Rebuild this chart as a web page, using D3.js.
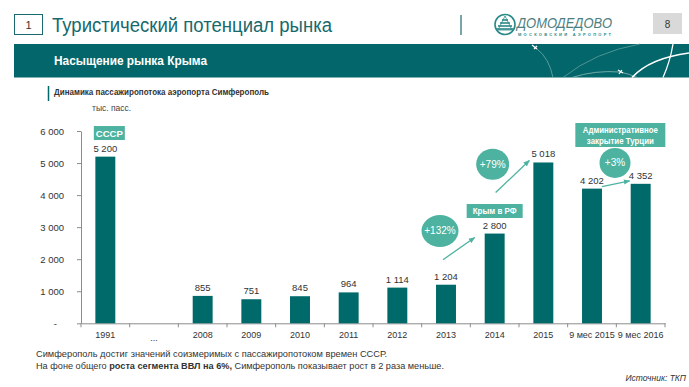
<!DOCTYPE html>
<html>
<head>
<meta charset="utf-8">
<script src="https://d3js.org/d3.v7.min.js"></script>
<style>
  body { margin: 0; background: #fff; }
  text { font-family: "Liberation Sans", Arial, sans-serif; }
</style>
</head>
<body>
<script>
// chart data
const categories = ["1991", "...", "2008", "2009", "2010", "2011", "2012", "2013", "2014", "2015", "9 мес 2015", "9 мес 2016"];
const passengers = [5200, null, 855, 751, 845, 964, 1114, 1204, 2800, 5018, 4202, 4352];
const yTicks = [0, 1000, 2000, 3000, 4000, 5000, 6000];
const growthLabels = ["+132%", "+79%", "+3%"];

const width = 689, height = 387;
const teal = "#006a6a", light = "#4db3a0", txt = "#333";

const svg = d3.select("body").append("svg")
    .attr("width", width)
    .attr("height", height);

svg.append("defs").append("marker")
    .attr("id", "arr")
    .attr("viewBox", "0 0 10 10")
    .attr("refX", 9).attr("refY", 5)
    .attr("markerWidth", 5).attr("markerHeight", 5)
    .attr("orient", "auto")
    .append("path").attr("d", "M0,1 L10,5 L0,9 Z").attr("fill", light);

// ---- header ----
svg.append("rect").attr("x", 14.5).attr("y", 14.5).attr("width", 28).attr("height", 20)
    .attr("fill", "none").attr("stroke", "#1b6b6e").attr("stroke-width", 1);
svg.append("text").attr("x", 28.5).attr("y", 28.5).attr("text-anchor", "middle")
    .attr("font-size", 11).attr("fill", txt).text("1");
svg.append("text").attr("x", 52).attr("y", 31.5)
    .attr("font-size", 20).attr("fill", "#17696d")
    .attr("textLength", 280).attr("lengthAdjust", "spacingAndGlyphs")
    .text("Туристический потенциал рынка");
svg.append("line").attr("x1", 461).attr("x2", 461).attr("y1", 15).attr("y2", 35)
    .attr("stroke", "#1b6b6e").attr("stroke-width", 1.2);

// logo
const logo = svg.append("g");
logo.append("circle").attr("cx", 505).attr("cy", 24.5).attr("r", 10)
    .attr("fill", "none").attr("stroke", "#2a8a88").attr("stroke-width", 1.6);
[[0, 3], [3, 5], [6, 7], [9, 9]].forEach(([dy, hw]) => {
  logo.append("line").attr("x1", 505 - hw).attr("x2", 505 + hw)
      .attr("y1", 20 + dy).attr("y2", 20 + dy)
      .attr("stroke", "#2a8a88").attr("stroke-width", 1.6);
});
logo.append("path").attr("d", "M505,16 L498,30 L512,30 Z").attr("fill", "none")
    .attr("stroke", "#2a8a88").attr("stroke-width", 0.8);
logo.append("text").attr("x", 517).attr("y", 28)
    .attr("font-size", 14.5).attr("font-style", "italic").attr("fill", "#4d7f82")
    .attr("textLength", 95).attr("lengthAdjust", "spacingAndGlyphs")
    .text("ДОМОДЕДОВО");
logo.append("text").attr("x", 518).attr("y", 35.5)
    .attr("font-size", 4).attr("font-weight", "bold").attr("fill", "#2a8a88")
    .attr("textLength", 93).attr("lengthAdjust", "spacing")
    .text("МОСКОВСКИЙ АЭРОПОРТ");

svg.append("rect").attr("x", 653).attr("y", 13).attr("width", 29).attr("height", 21).attr("fill", "#d9d9d9");
svg.append("text").attr("x", 667.5).attr("y", 28).attr("text-anchor", "middle")
    .attr("font-size", 10).attr("fill", txt).text("8");

// banner
svg.append("rect").attr("x", 14).attr("y", 44).attr("width", width - 14).attr("height", 33.5).attr("fill", "#03666a");
svg.append("text").attr("x", 54).attr("y", 65).attr("font-size", 12).attr("font-weight", "bold")
    .attr("fill", "#fff").attr("textLength", 153).attr("lengthAdjust", "spacingAndGlyphs")
    .text("Насыщение рынка Крыма");
const deco = svg.append("g").attr("fill", "none");
deco.append("path").attr("d", "M537,49 Q549,58 553,77.5").attr("stroke", "#6fa9a6").attr("stroke-width", 0.8);
deco.append("path").attr("d", "M563,77.5 Q595,52 640,44").attr("stroke", "#5f9f9c").attr("stroke-width", 0.8);
deco.append("path").attr("d", "M572,77.5 Q595,70 620,72 Q630,74 637,77.5").attr("stroke", "#8bbab7").attr("stroke-width", 0.8);
deco.append("path").attr("d", "M632,77.5 Q650,58 689,53").attr("stroke", "#fff").attr("stroke-width", 1.6);
deco.append("path").attr("d", "M673,44 Q670,62 663,77.5").attr("stroke", "#fff").attr("stroke-width", 1.3);
deco.append("path").attr("d", "M532,45 L537,49 M534,49 L537,46").attr("stroke", "#fff").attr("stroke-width", 1.2);
deco.append("path").attr("d", "M618,70 L623,73 M619,74 L622,70").attr("stroke", "#fff").attr("stroke-width", 1.2);

// subtitle
svg.append("line").attr("x1", 48.5).attr("x2", 48.5).attr("y1", 86).attr("y2", 101)
    .attr("stroke", teal).attr("stroke-width", 1.5);
svg.append("text").attr("x", 54).attr("y", 95).attr("font-size", 9).attr("font-weight", "bold")
    .attr("fill", txt).attr("textLength", 215).attr("lengthAdjust", "spacingAndGlyphs")
    .text("Динамика пассажиропотока  аэропорта  Симферополь");
svg.append("text").attr("x", 92).attr("y", 111).attr("font-size", 8.5).attr("fill", "#444")
    .text("тыс.  пасс.");

// ---- chart ----
const x = d3.scaleBand().domain(categories).range([81, 665]).paddingInner(0.59).paddingOuter(0.295);
const y = d3.scaleLinear().domain([0, 6000]).range([323.3, 131]);
const bw = x.bandwidth(), step = x.step();
const cx = c => x(c) + bw / 2;
const fmt = v => d3.format(",")(v).replace(/,/g, " ");

const data = categories.map((c, i) => ({ cat: c, v: passengers[i] }));

// y axis
const yAxis = svg.append("g").attr("transform", "translate(81,0)")
    .call(d3.axisLeft(y).tickValues(yTicks).tickSize(4).tickSizeOuter(0).tickPadding(13)
        .tickFormat(d => d === 0 ? "-" : fmt(d)));
yAxis.select(".domain").attr("stroke", "#8c8c8c");
yAxis.selectAll(".tick line").attr("stroke", "#8c8c8c");
yAxis.selectAll(".tick text").attr("font-size", 9.5).attr("fill", txt)
    .attr("font-family", "Liberation Sans, Arial, sans-serif");
yAxis.selectAll(".tick text").filter(d => d === 0).attr("dx", -7);

// x axis (labels) + boundary ticks
const xAxis = svg.append("g").attr("transform", "translate(0," + y(0) + ")")
    .call(d3.axisBottom(x).tickSize(0).tickPadding(8).tickSizeOuter(0));
xAxis.select(".domain").attr("stroke", "#8c8c8c");
xAxis.selectAll(".tick text").attr("font-size", 9).attr("fill", txt)
    .attr("font-family", "Liberation Sans, Arial, sans-serif");
xAxis.selectAll(".tick text").filter(d => d === "...").attr("dy", "1.05em");
const bounds = categories.map(c => cx(c) - step / 2).concat([cx(categories[categories.length - 1]) + step / 2]);
svg.append("g").selectAll("line").data(bounds).join("line")
    .attr("x1", d => d).attr("x2", d => d)
    .attr("y1", y(0)).attr("y2", y(0) + 4)
    .attr("stroke", "#8c8c8c");

// bars
svg.append("g").selectAll("rect").data(data.filter(d => d.v != null)).join("rect")
    .attr("x", d => x(d.cat))
    .attr("y", d => y(d.v))
    .attr("width", bw)
    .attr("height", d => y(0) - y(d.v))
    .attr("fill", teal);

svg.append("g").selectAll("text").data(data.filter(d => d.v != null)).join("text")
    .attr("x", d => cx(d.cat))
    .attr("y", d => y(d.v) - 5)
    .attr("text-anchor", "middle")
    .attr("font-size", 9.5)
    .attr("fill", txt)
    .text(d => fmt(d.v));

// ---- annotations ----
function box(xc, yc, w, h, lines, lens) {
  svg.append("rect").attr("x", xc - w / 2).attr("y", yc - h / 2).attr("width", w).attr("height", h).attr("fill", light);
  lines.forEach((l, i) => {
    svg.append("text").attr("x", xc - lens[i] / 2).attr("y", yc + 3.5 + (i - (lines.length - 1) / 2) * 10.5)
        .attr("font-size", 9.5).attr("font-weight", "bold")
        .attr("textLength", lens[i]).attr("lengthAdjust", "spacingAndGlyphs")
        .attr("fill", "#fff").text(l);
  });
}
box(cx("1991") + 4, y(5937), 31, 14, ["СССР"], [27]);
box(cx("2014"), y(3504), 56, 14, ["Крым в РФ"], [44]);
box((cx("9 мес 2015") + cx("9 мес 2016")) / 2 + 4, y(5875), 90, 24,
    ["Административное", "закрытие  Турции"], [75, 67]);

function arrow(x1, y1, x2, y2) {
  svg.append("line").attr("x1", x1).attr("y1", y1).attr("x2", x2).attr("y2", y2)
      .attr("stroke", light).attr("stroke-width", 1.3).attr("marker-end", "url(#arr)");
}
arrow(cx("2013") - 3, y(1204) - 25, x("2014") - 10, y(2800) + 4);
arrow(cx("2014") + 1, y(2800) - 41, x("2015") - 4, y(5018) - 2);
arrow(x("9 мес 2015") + bw, y(4202) - 2, x("9 мес 2016") - 1, y(4352) - 3);

function bubble(xc, yc, rx, ry, label) {
  svg.append("ellipse").attr("cx", xc).attr("cy", yc).attr("rx", rx).attr("ry", ry).attr("fill", light);
  svg.append("text").attr("x", xc).attr("y", yc + 3.5).attr("text-anchor", "middle")
      .attr("font-size", 10).attr("fill", "#fff").text(label);
}
bubble(cx("2013") - 6, y(2880), 18.5, 16, growthLabels[0]);
bubble(cx("2014") - 2, y(4960), 16.5, 15.5, growthLabels[1]);
bubble(cx("9 мес 2015") + 23, y(5005), 15.5, 15, growthLabels[2]);

// ---- footer text ----
svg.append("text").attr("x", 36).attr("y", 357).attr("font-size", 9).attr("fill", txt)
    .attr("textLength", 351).attr("lengthAdjust", "spacingAndGlyphs")
    .text("Симферополь  достиг  значений  соизмеримых  с пассажиропотоком  времен  СССР.");
const l2 = svg.append("text").attr("x", 36).attr("y", 369).attr("font-size", 9).attr("fill", txt)
    .attr("textLength", 408).attr("lengthAdjust", "spacingAndGlyphs");
l2.append("tspan").text("На фоне  общего  ");
l2.append("tspan").attr("font-weight", "bold").text("роста сегмента  ВВЛ на 6%,");
l2.append("tspan").text(" Симферополь  показывает  рост  в 2 раза меньше.");
svg.append("text").attr("x", 686).attr("y", 381).attr("text-anchor", "end")
    .attr("font-size", 8.5).attr("font-style", "italic").attr("fill", txt)
    .text("Источник:  ТКП");
</script>
</body>
</html>
